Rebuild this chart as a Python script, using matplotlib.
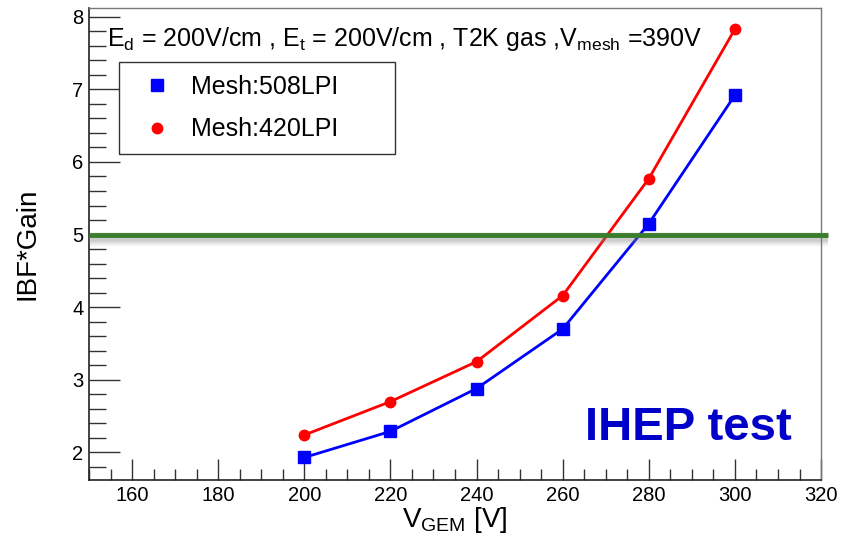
import matplotlib.pyplot as plt
from matplotlib.ticker import MultipleLocator
import matplotlib.patheffects as pe

plt.rcParams['font.family'] = ['Liberation Sans', 'DejaVu Sans']

v_gem = [200, 220, 240, 260, 280, 300]
ibf_508 = [1.93, 2.29, 2.88, 3.70, 5.15, 6.92]
ibf_420 = [2.24, 2.70, 3.25, 4.16, 5.77, 7.83]
limit = 5.0

fig = plt.figure(figsize=(8.51, 5.35), dpi=100)
ax = fig.add_axes([0.1046, 0.1028, 0.8602, 0.8822])

ax.plot(v_gem, ibf_508, color='#0000ff', lw=2, marker='s', ms=8, label='Mesh:508LPI')
ax.plot(v_gem, ibf_420, color='#ff0000', lw=2, marker='o', ms=7.5, label='Mesh:420LPI')

# threshold line with a soft blurred shadow, running a little past the frame
shadow = [pe.SimpleLineShadow(offset=(0, -3), shadow_color='gray', alpha=a, linewidth=w)
          for a, w in [(0.10, 10), (0.15, 7), (0.2, 4)]]
ax.plot([150, 321.6], [limit, limit], color='#3a7d2c', lw=3.5, clip_on=False, zorder=3,
        solid_capstyle='butt', path_effects=shadow + [pe.Normal()])

ax.set_xlim(150, 320)
ax.set_ylim(1.62, 8.12)
ax.xaxis.set_major_locator(MultipleLocator(20))
ax.xaxis.set_minor_locator(MultipleLocator(5))
ax.yaxis.set_major_locator(MultipleLocator(1))
ax.yaxis.set_minor_locator(MultipleLocator(0.2))
ax.tick_params(which='major', direction='in', length=15, width=1, labelsize=14.5, color='#333333')
ax.tick_params(which='minor', direction='in', length=8, width=1, color='#333333')
ax.tick_params(axis='y', which='major', length=22, pad=4)
ax.tick_params(axis='y', which='minor', length=12)
ax.tick_params(axis='x', pad=4)

for s in ['left', 'bottom']:
    ax.spines[s].set_color('#222222')
    ax.spines[s].set_linewidth(1.2)
for s in ['top', 'right']:
    ax.spines[s].set_color('#777777')
    ax.spines[s].set_linewidth(1)

ax.set_ylabel('IBF*Gain', fontsize=20)
ax.yaxis.set_label_coords(-0.066, 0.5)
ax.set_xlabel(r'V$_{\mathregular{GEM}}$ [V]', fontsize=20)
ax.xaxis.set_label_coords(0.5, -0.053)

ax.text(0.024, 0.935,
        r'E$_{\mathregular{d}}$ = 200V/cm , E$_{\mathregular{t}}$ = 200V/cm , T2K gas ,V$_{\mathregular{mesh}}$ =390V',
        transform=ax.transAxes, fontsize=18, va='center', ha='left')

leg = ax.legend(loc='upper left', bbox_to_anchor=(0.041, 0.699, 0.377, 0.1866), mode='expand',
                fontsize=18, frameon=True, fancybox=False, edgecolor='#333333', framealpha=1,
                handlelength=2.0, borderpad=0.5, labelspacing=0.75, handletextpad=0.36,
                borderaxespad=0)
for h in leg.legend_handles:
    h.set_linestyle('none')
leg.get_frame().set_linewidth(1)

ax.text(0.678, 0.11, 'IHEP test', transform=ax.transAxes, fontsize=34,
        fontweight='bold', color='#0000c8', ha='left', va='center')

fig.savefig('out.png', dpi=100)
